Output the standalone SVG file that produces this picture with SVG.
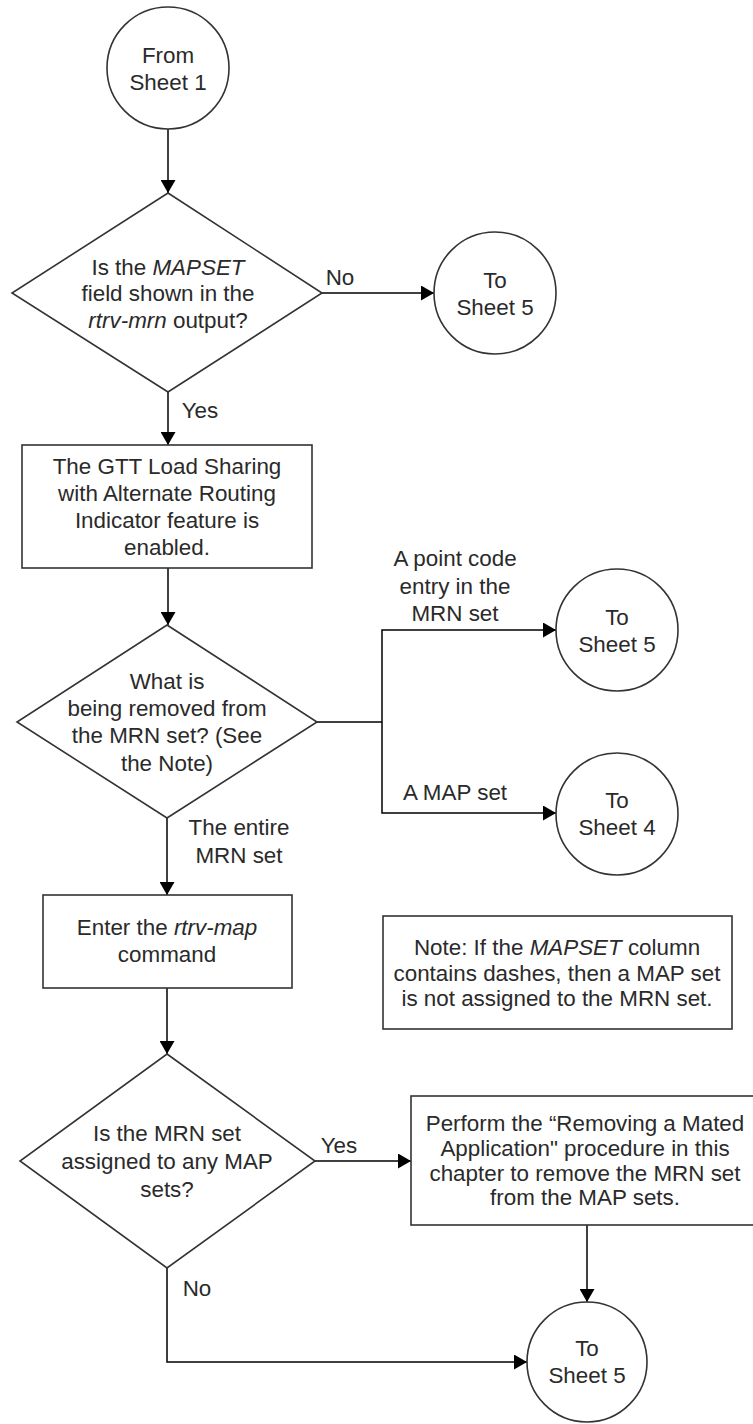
<svg xmlns="http://www.w3.org/2000/svg" width="753" height="1424" viewBox="0 0 753 1424">
<style>
  .shape { fill: #ffffff; stroke: #333333; stroke-width: 1.6; }
  .conn { fill: none; stroke: #000000; stroke-width: 1.5; }
  text { font-family: "Liberation Sans", Arial, sans-serif; font-size: 22.4px; fill: #2a2a2a; text-anchor: middle; }
  .i { font-style: italic; }
</style>
<defs>
  <marker id="arrow" markerUnits="userSpaceOnUse" markerWidth="14" markerHeight="15" refX="13" refY="7.5" orient="auto">
    <path d="M0,0 L13,7.5 L0,15 z" fill="#000000"/>
  </marker>
</defs>
<rect width="753" height="1424" fill="#ffffff"/>

<g id="connectors">
  <line class="conn" x1="168" y1="129" x2="168" y2="193" marker-end="url(#arrow)"/>
  <line class="conn" x1="322" y1="293" x2="434" y2="293" marker-end="url(#arrow)"/>
  <line class="conn" x1="168" y1="392" x2="168" y2="445" marker-end="url(#arrow)"/>
  <line class="conn" x1="168" y1="568" x2="168" y2="625" marker-end="url(#arrow)"/>
  <polyline class="conn" points="317,722 382,722"/>
  <polyline class="conn" points="382,722 382,630 556,630" marker-end="url(#arrow)"/>
  <polyline class="conn" points="382,722 382,813 556,813" marker-end="url(#arrow)"/>
  <line class="conn" x1="167" y1="818" x2="167" y2="895" marker-end="url(#arrow)"/>
  <line class="conn" x1="167" y1="988" x2="167" y2="1054" marker-end="url(#arrow)"/>
  <line class="conn" x1="315" y1="1161" x2="411" y2="1161" marker-end="url(#arrow)"/>
  <line class="conn" x1="587" y1="1225" x2="587" y2="1302" marker-end="url(#arrow)"/>
  <polyline class="conn" points="167,1268 167,1362 527,1362" marker-end="url(#arrow)"/>
  <text x="340" y="285">No</text>
  <text x="200" y="418">Yes</text>
  <text x="455" y="566">A point code</text>
  <text x="455" y="594">entry in the</text>
  <text x="455" y="621">MRN set</text>
  <text x="455" y="800">A MAP set</text>
  <text x="239" y="835">The entire</text>
  <text x="239" y="863">MRN set</text>
  <text x="339" y="1153">Yes</text>
  <text x="197" y="1296">No</text>
</g>

<g id="from-sheet-1">
  <circle class="shape" cx="168" cy="68" r="61"/>
  <text x="168" y="63">From</text>
  <text x="168" y="90">Sheet 1</text>
</g>

<g id="decision-mapset">
  <polygon class="shape" points="168,193 322,293 168,392 12,293"/>
  <text x="168" y="275">Is the <tspan class="i">MAPSET</tspan></text>
  <text x="168" y="301">field shown in the</text>
  <text x="168" y="328"><tspan class="i">rtrv-mrn</tspan> output?</text>
</g>

<g id="to-sheet-5-a">
  <circle class="shape" cx="495" cy="293" r="61"/>
  <text x="495" y="288">To</text>
  <text x="495" y="315">Sheet 5</text>
</g>

<g id="gtt-enabled">
  <rect class="shape" x="22" y="445" width="290" height="123"/>
  <text x="167" y="474">The GTT Load Sharing</text>
  <text x="167" y="501">with Alternate Routing</text>
  <text x="167" y="528">Indicator feature is</text>
  <text x="167" y="555">enabled.</text>
</g>

<g id="decision-removed">
  <polygon class="shape" points="167,625 317,722 167,818 17,722"/>
  <text x="167" y="689">What is</text>
  <text x="167" y="716">being removed from</text>
  <text x="167" y="743">the MRN set? (See</text>
  <text x="167" y="771">the Note)</text>
</g>

<g id="to-sheet-5-b">
  <circle class="shape" cx="617" cy="630" r="61"/>
  <text x="617" y="625">To</text>
  <text x="617" y="652">Sheet 5</text>
</g>

<g id="to-sheet-4">
  <circle class="shape" cx="617" cy="814" r="61"/>
  <text x="617" y="808">To</text>
  <text x="617" y="835">Sheet 4</text>
</g>

<g id="enter-rtrv-map">
  <rect class="shape" x="43" y="895" width="249" height="93"/>
  <text x="167" y="935">Enter the <tspan class="i">rtrv-map</tspan></text>
  <text x="167" y="962">command</text>
</g>

<g id="note">
  <rect class="shape" x="383" y="916" width="349" height="113"/>
  <text x="557" y="955">Note: If the <tspan class="i">MAPSET</tspan> column</text>
  <text x="557" y="981">contains dashes, then a MAP set</text>
  <text x="557" y="1006">is not assigned to the MRN set.</text>
</g>

<g id="decision-assigned">
  <polygon class="shape" points="167,1054 315,1161 167,1268 20,1161"/>
  <text x="167" y="1141">Is the MRN set</text>
  <text x="167" y="1169">assigned to any MAP</text>
  <text x="167" y="1197">sets?</text>
</g>

<g id="remove-mated-app">
  <rect class="shape" x="411" y="1096" width="348" height="129"/>
  <text x="585" y="1131">Perform the “Removing a Mated</text>
  <text x="585" y="1156">Application" procedure in this</text>
  <text x="585" y="1181">chapter to remove the MRN set</text>
  <text x="585" y="1205">from the MAP sets.</text>
</g>

<g id="to-sheet-5-c">
  <circle class="shape" cx="587" cy="1362" r="60"/>
  <text x="587" y="1356">To</text>
  <text x="587" y="1383">Sheet 5</text>
</g>
</svg>
